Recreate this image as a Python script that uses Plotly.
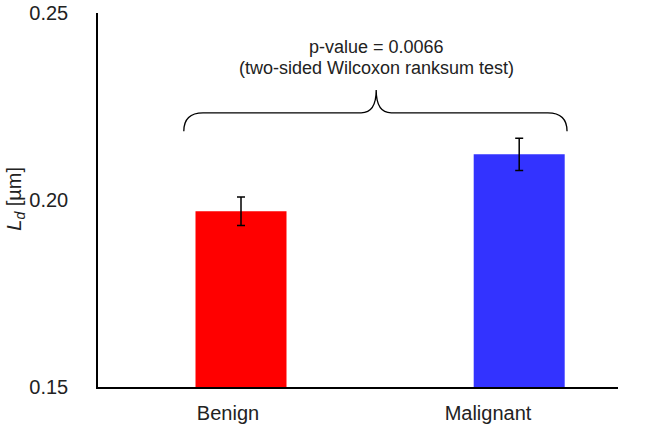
import plotly.graph_objects as go

categories = ["Benign", "Malignant"]
values = [0.197, 0.2122]
errors = [0.0038, 0.0043]
colors = ["#FF0000", "#3333FF"]
p_text = "p-value = 0.0066"
test_text = "(two-sided Wilcoxon ranksum test)"
y_title = "<i>L<sub>d</sub></i> [µm]"

font = "Liberation Sans, Arial, sans-serif"

fig = go.Figure(go.Bar(
    x=categories,
    y=values,
    marker=dict(color=colors, line=dict(width=0)),
    width=0.35,
    offset=[-0.125, -0.055],
    error_y=dict(type="data", array=errors, color="black", thickness=1.5, width=4),
))

# curly brace above the bars (paper coords)
x0, x1, xc = 0.165, 0.902, 0.535
yb, yh, yt = 0.684, 0.733, 0.794
re, rc = 0.037, 0.029
brace = (f"M {x0},{yb} Q {x0},{yh} {x0+re},{yh} L {xc-rc},{yh} Q {xc},{yh} {xc},{yt} "
         f"Q {xc},{yh} {xc+rc},{yh} L {x1-re},{yh} Q {x1},{yh} {x1},{yb}")
fig.add_shape(type="path", path=brace, xref="paper", yref="paper",
              line=dict(color="black", width=1.3))

fig.add_annotation(x=xc, y=0.941, xref="paper", yref="paper", text=p_text,
                   showarrow=False, font=dict(size=18, color="#222"))
fig.add_annotation(x=xc, y=0.885, xref="paper", yref="paper", text=test_text,
                   showarrow=False, font=dict(size=18, color="#222"))
fig.add_annotation(x=-0.158, y=0.503, xref="paper", yref="paper", text=y_title,
                   xanchor="center", yanchor="middle",
                   textangle=-90, showarrow=False, font=dict(size=20, color="#222"))

fig.update_layout(
    width=666, height=427,
    margin=dict(l=98, r=48, t=13, b=40),
    plot_bgcolor="white", paper_bgcolor="white",
    font=dict(family=font, size=20, color="#222"),
    showlegend=False,
)
fig.update_xaxes(range=[-0.5, 1.5], showline=True, linecolor="black", linewidth=1.5,
                 ticks="", ticklabelstandoff=7, tickfont=dict(size=20), automargin=False)
fig.update_yaxes(range=[0.15, 0.25], tickvals=[0.15, 0.20, 0.25], tickformat=".2f",
                 showline=True, linecolor="black", linewidth=1.5, showgrid=False,
                 zeroline=False, ticks="", ticklabelstandoff=24, tickfont=dict(size=20),
                 automargin=False)

# drop the default page margin so the figure sits at the window's corner
fig.write_html("out.html", config={"displayModeBar": False},
               post_script="document.body.style.margin='0';")
